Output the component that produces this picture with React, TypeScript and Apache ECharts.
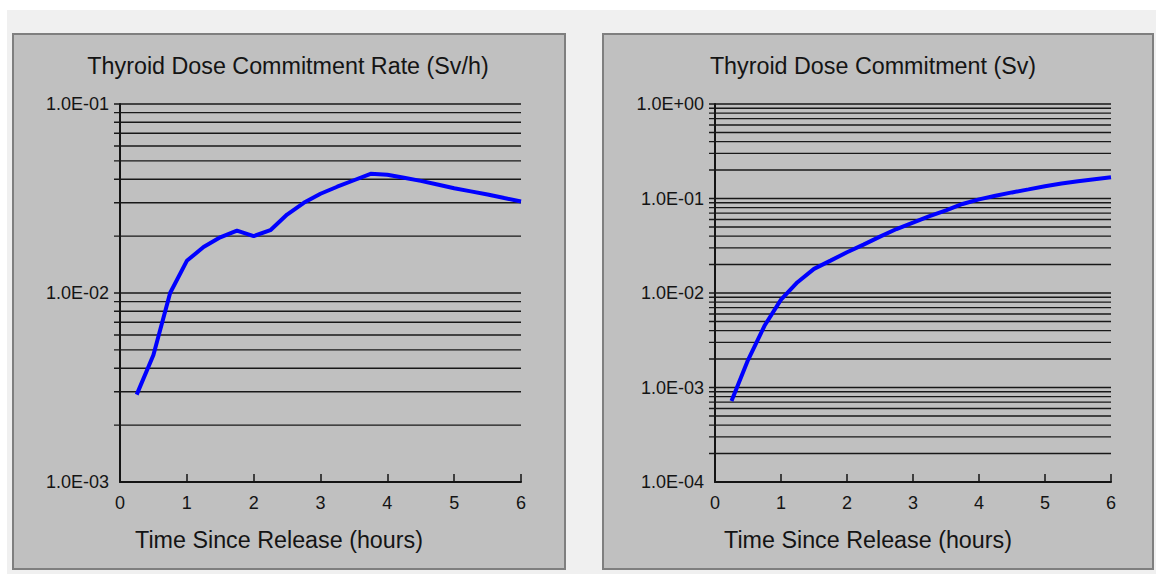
import React, { useEffect, useRef } from "react";
import * as echarts from "echarts";

// Time points (hours since release)
const timeHours = [0.25, 0.5, 0.75, 1.0, 1.25, 1.5, 1.75, 2.0, 2.25, 2.5, 2.75, 3.0, 3.25, 3.5, 3.75, 4.0, 4.25, 4.5, 4.75, 5.0, 5.25, 5.5, 5.75, 6.0];

// Thyroid dose commitment rate (Sv/h)
const doseRate = [2.9e-3, 4.7e-3, 1.0e-2, 1.48e-2, 1.75e-2, 1.97e-2, 2.14e-2, 2.0e-2, 2.15e-2, 2.6e-2, 3.0e-2, 3.35e-2, 3.65e-2, 3.95e-2, 4.27e-2, 4.22e-2, 4.07e-2, 3.92e-2, 3.75e-2, 3.58e-2, 3.45e-2, 3.32e-2, 3.18e-2, 3.05e-2];

// Thyroid dose commitment (Sv)
const doseCommit = [7.2e-4, 1.95e-3, 4.5e-3, 8.5e-3, 1.3e-2, 1.8e-2, 2.2e-2, 2.7e-2, 3.25e-2, 3.95e-2, 4.75e-2, 5.55e-2, 6.5e-2, 7.5e-2, 8.75e-2, 9.8e-2, 0.107, 0.116, 0.125, 0.135, 0.144, 0.152, 0.16, 0.168];

// Gridline tick values (log axis minors / majors)
const mantissas = [1, 2, 3, 4, 5, 6, 7, 8, 9];
const rateDecades = [-3, -2];
const commitDecades = [-4, -3, -2, -1];
const rateTop = 0.1;
const commitTop = 1;

const xTicks = { min: 0, max: 6, interval: 1 };

const titles = ["Thyroid Dose Commitment Rate (Sv/h)", "Thyroid Dose Commitment (Sv)"];
const xTitle = "Time Since Release (hours)";

function gridValues(decades: number[], top: number): number[] {
  const out: number[] = [];
  decades.forEach((e) => {
    mantissas.forEach((m) => {
      out.push(m * Math.pow(10, e));
    });
  });
  out.push(top);
  return out.slice(1); // skip axis minimum (it is the x axis line)
}

const FONT = "'Liberation Sans', Arial, sans-serif";
const TXT = "#141414";

function fmtExp(v: number): string {
  const e = Math.round(Math.log10(v));
  const m = v / Math.pow(10, e);
  const sign = e < 0 ? "-" : "+";
  return `${m.toFixed(1)}E${sign}${String(Math.abs(e)).padStart(2, "0")}`;
}

export default function App() {
  const ref = useRef<HTMLDivElement>(null);
  useEffect(() => {
    if (!ref.current) return;
    const chart = echarts.init(ref.current, null, { renderer: "svg" });

    const grids = [
      { left: 120, top: 104, width: 401, height: 378 },
      { left: 715, top: 104, width: 396, height: 378 },
    ];

    const xAxisCommon = (gi: number) => ({
      type: "value",
      gridIndex: gi,
      min: xTicks.min,
      max: xTicks.max,
      interval: xTicks.interval,
      axisLine: { show: true, lineStyle: { color: TXT, width: 2 } },
      axisTick: { show: true, inside: true, length: 8, lineStyle: { color: TXT, width: 1.5 } },
      splitLine: { show: false },
      axisLabel: { color: TXT, fontSize: 18, fontFamily: FONT, margin: 12 },
    });

    const yAxisCommon = (gi: number, min: number, max: number) => ({
      type: "log",
      logBase: 10,
      gridIndex: gi,
      min,
      max,
      axisLine: { show: true, lineStyle: { color: TXT, width: 2 } },
      axisTick: { show: false },
      splitLine: { show: false },
      minorTick: { show: false },
      axisLabel: { color: TXT, fontSize: 18, fontFamily: FONT, margin: 11, formatter: (v: number) => fmtExp(v) },
    });

    const gridSeries = (gi: number, values: number[]) => ({
      type: "custom",
      xAxisIndex: gi,
      yAxisIndex: gi,
      silent: true,
      z: 1,
      clip: false,
      data: values.map((v) => [xTicks.min, v]),
      renderItem: (params: any, api: any) => {
        const y = api.coord([api.value(0), api.value(1)])[1];
        const cs = params.coordSys;
        return {
          type: "line",
          shape: { x1: cs.x - 6, y1: y, x2: cs.x + cs.width, y2: y },
          style: { stroke: "#181818", lineWidth: 1.4 },
        };
      },
    });

    const panel = (x: number, w: number) => ({
      type: "rect",
      shape: { x, y: 34, width: w, height: 535 },
      style: { fill: "#c0c0c0", stroke: "#7f7f7f", lineWidth: 2 },
      z: -10,
    });

    const text = (t: string, x: number, y: number, size: number) => ({
      type: "text",
      x,
      y,
      style: { text: t, fill: TXT, fontSize: size, fontFamily: FONT, align: "center", verticalAlign: "middle" },
      z: 10,
    });

    chart.setOption({
      animation: false,
      backgroundColor: "#ffffff",
      grid: grids,
      xAxis: [xAxisCommon(0), xAxisCommon(1)],
      yAxis: [yAxisCommon(0, 0.001, rateTop), yAxisCommon(1, 0.0001, commitTop)],
      graphic: [
        { type: "rect", shape: { x: 7, y: 10, width: 1149, height: 564 }, style: { fill: "#f0f0f0" }, z: -20 },
        panel(13, 552),
        panel(603, 550),
        text(titles[0], 288, 66, 23.3),
        text(titles[1], 873, 66, 23.3),
        text(xTitle, 279, 540, 23.3),
        text(xTitle, 868, 540, 23.3),
      ],
      series: [
        gridSeries(0, gridValues(rateDecades, rateTop)),
        gridSeries(1, gridValues(commitDecades, commitTop)),
        {
          type: "line",
          xAxisIndex: 0,
          yAxisIndex: 0,
          z: 5,
          showSymbol: false,
          symbol: "none",
          data: timeHours.map((t, i) => [t, doseRate[i]]),
          lineStyle: { color: "#0000ff", width: 4 },
          itemStyle: { color: "#0000ff" },
        },
        {
          type: "line",
          xAxisIndex: 1,
          yAxisIndex: 1,
          z: 5,
          showSymbol: false,
          symbol: "none",
          data: timeHours.map((t, i) => [t, doseCommit[i]]),
          lineStyle: { color: "#0000ff", width: 4 },
          itemStyle: { color: "#0000ff" },
        },
      ],
    });
    return () => chart.dispose();
  }, []);

  return <div ref={ref} style={{ position: "fixed", left: 0, top: 0, width: 1156, height: 574 }} />;
}
